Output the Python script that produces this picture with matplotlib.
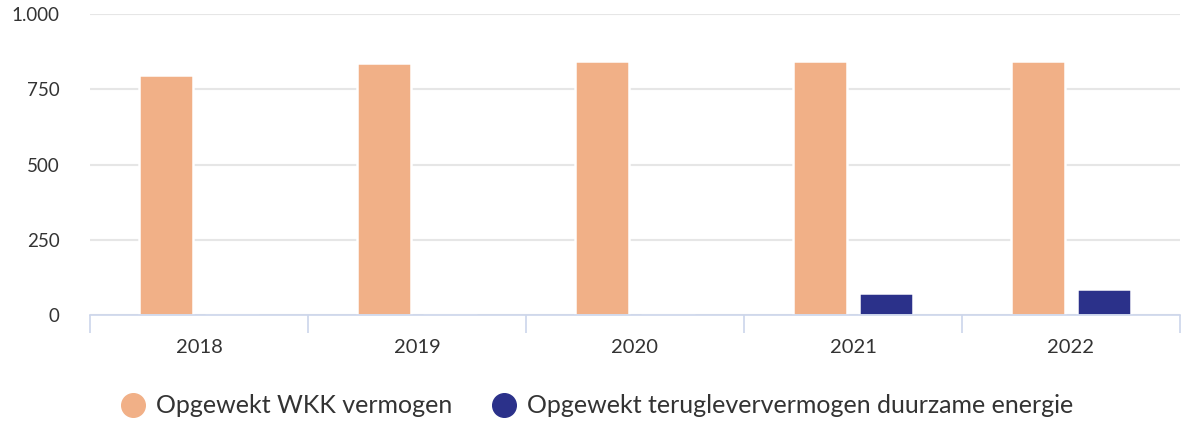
import numpy as np
import matplotlib
matplotlib.use("Agg")
import matplotlib.pyplot as plt
from matplotlib.lines import Line2D

# ------------- data -------------
YEARS = ["2018", "2019", "2020", "2021", "2022"]
WKK = [796, 837, 844, 844, 844]
DUURZAAM = [0, 0, 0, 72, 86]
SERIES_NAMES = ["Opgewekt WKK vermogen", "Opgewekt terugleververmogen duurzame energie"]
Y_TICKS = [0, 250, 500, 750, 1000]
Y_LABELS = ["0", "250", "500", "750", "1.000"]

ORANGE = "#f1b087"
NAVY = "#2b318a"
TEXT = "#333333"
GRID = "#e6e6e6"
AXIS = "#ccd6eb"

plt.rcParams["font.family"] = ["Lato", "DejaVu Sans"]

fig = plt.figure(figsize=(11.82, 4.26), dpi=100)
ax = fig.add_axes([90 / 1182, 1 - 315 / 426, 1090 / 1182, 301 / 426])

x = np.arange(len(YEARS))
w = 0.25
off = 0.151
ax.bar(x - off, WKK, w, color=ORANGE, edgecolor="white", linewidth=1.8, zorder=2)
ax.bar(x + off, DUURZAAM, w, color=NAVY, edgecolor="white", linewidth=1.8, zorder=2)

ax.set_xlim(-0.5, len(YEARS) - 0.5)
ax.set_ylim(0, 1000)
ax.set_yticks(Y_TICKS)
ax.set_yticklabels(Y_LABELS)
ax.yaxis.grid(True, color=GRID, linewidth=1.5, zorder=1)
ax.set_axisbelow(True)

ax.set_xticks(x)
ax.set_xticklabels(YEARS)
ax.set_xticks(np.arange(-0.5, len(YEARS)), minor=True)
ax.tick_params(axis="x", which="major", length=0, pad=17, labelsize=14.5, labelcolor=TEXT)
ax.tick_params(axis="x", which="minor", length=13, width=1.2, color=AXIS, direction="out")
ax.tick_params(axis="y", length=0, pad=22, labelsize=13.5, labelcolor=TEXT)

for s in ["top", "right", "left"]:
    ax.spines[s].set_visible(False)
ax.spines["bottom"].set_color(AXIS)
ax.spines["bottom"].set_linewidth(1.2)
ax.spines["bottom"].set_zorder(3)

handles = [
    Line2D([], [], marker="o", linestyle="none", markersize=17, color=ORANGE),
    Line2D([], [], marker="o", linestyle="none", markersize=17, color=NAVY),
]
fig.legend(handles, SERIES_NAMES, loc="center", bbox_to_anchor=(0.505, 0.047), ncol=2,
           frameon=False, fontsize=18, labelcolor=TEXT, handletextpad=0.4,
           columnspacing=1.6, handlelength=1.0)

fig.savefig("out.png", dpi=100)
